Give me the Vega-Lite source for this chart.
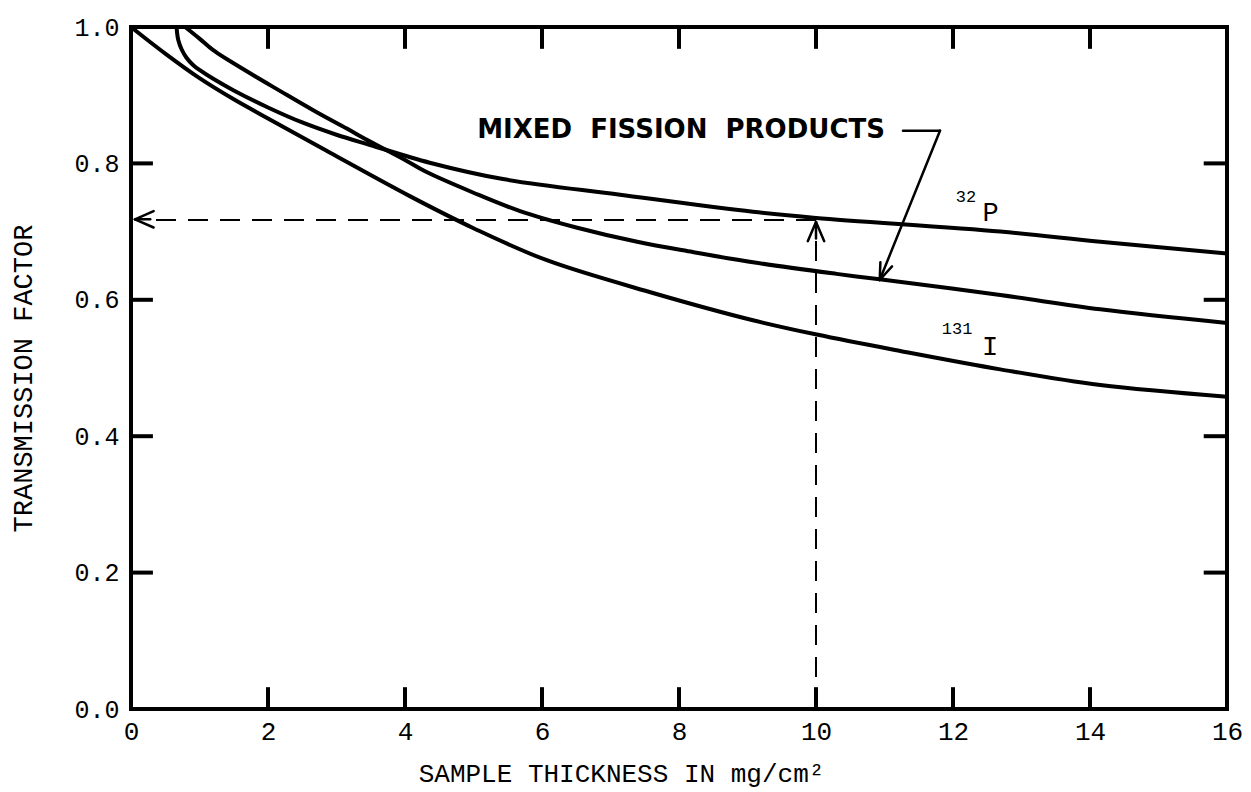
{
  "$schema": "https://vega.github.io/schema/vega-lite/v6.json",
  "width": 1096,
  "height": 682,
  "autosize": {"type": "none"},
  "padding": {"left": 131, "top": 27, "right": 24, "bottom": 83},
  "background": "white",
  "config": {
    "view": {"stroke": "black", "strokeWidth": 4},
    "axis": {"grid": false, "domain": false, "ticks": false, "tickSize": 0, "labelColor": "black", "titleColor": "black", "labelOverlap": false, "labelFlush": false}
  },
  "datasets": {
    "curves": [
      {"s": "I131", "x": 0, "y": 1.0},
      {"s": "I131", "x": 0.5, "y": 0.961},
      {"s": "I131", "x": 1.0, "y": 0.925},
      {"s": "I131", "x": 1.5, "y": 0.894},
      {"s": "I131", "x": 2.0, "y": 0.866},
      {"s": "I131", "x": 2.9, "y": 0.816},
      {"s": "I131", "x": 4.07, "y": 0.752},
      {"s": "I131", "x": 5.0, "y": 0.705},
      {"s": "I131", "x": 6.07, "y": 0.658},
      {"s": "I131", "x": 7.62, "y": 0.610},
      {"s": "I131", "x": 9.08, "y": 0.570},
      {"s": "I131", "x": 10.01, "y": 0.549},
      {"s": "I131", "x": 11.23, "y": 0.525},
      {"s": "I131", "x": 12.69, "y": 0.498},
      {"s": "I131", "x": 14.15, "y": 0.475},
      {"s": "I131", "x": 16, "y": 0.458},
      {"s": "P32", "x": 0.667, "y": 1.0},
      {"s": "P32", "x": 0.672, "y": 0.992},
      {"s": "P32", "x": 0.69, "y": 0.981},
      {"s": "P32", "x": 0.74, "y": 0.967},
      {"s": "P32", "x": 0.81, "y": 0.955},
      {"s": "P32", "x": 0.91, "y": 0.944},
      {"s": "P32", "x": 1.0, "y": 0.937},
      {"s": "P32", "x": 1.2, "y": 0.924},
      {"s": "P32", "x": 1.5, "y": 0.907},
      {"s": "P32", "x": 2.0, "y": 0.882},
      {"s": "P32", "x": 2.5, "y": 0.860},
      {"s": "P32", "x": 3.0, "y": 0.842},
      {"s": "P32", "x": 3.49, "y": 0.827},
      {"s": "P32", "x": 4.36, "y": 0.801},
      {"s": "P32", "x": 5.43, "y": 0.777},
      {"s": "P32", "x": 7.14, "y": 0.754},
      {"s": "P32", "x": 9.08, "y": 0.729},
      {"s": "P32", "x": 10.0, "y": 0.720},
      {"s": "P32", "x": 12.69, "y": 0.700},
      {"s": "P32", "x": 14.15, "y": 0.685},
      {"s": "P32", "x": 16, "y": 0.668},
      {"s": "MFP", "x": 0.79, "y": 1.0},
      {"s": "MFP", "x": 1.0, "y": 0.983},
      {"s": "MFP", "x": 1.2, "y": 0.966},
      {"s": "MFP", "x": 1.69, "y": 0.935},
      {"s": "MFP", "x": 2.18, "y": 0.906},
      {"s": "MFP", "x": 2.66, "y": 0.878},
      {"s": "MFP", "x": 3.15, "y": 0.851},
      {"s": "MFP", "x": 3.49, "y": 0.832},
      {"s": "MFP", "x": 4.0, "y": 0.805},
      {"s": "MFP", "x": 4.3, "y": 0.788},
      {"s": "MFP", "x": 5.0, "y": 0.757},
      {"s": "MFP", "x": 5.68, "y": 0.730},
      {"s": "MFP", "x": 6.5, "y": 0.706},
      {"s": "MFP", "x": 7.39, "y": 0.685},
      {"s": "MFP", "x": 8.2, "y": 0.670},
      {"s": "MFP", "x": 9.08, "y": 0.655},
      {"s": "MFP", "x": 10.3, "y": 0.638},
      {"s": "MFP", "x": 10.93, "y": 0.630},
      {"s": "MFP", "x": 12.69, "y": 0.607},
      {"s": "MFP", "x": 14.15, "y": 0.586},
      {"s": "MFP", "x": 16, "y": 0.566}
    ],
    "ticks": [
      {"x": 2, "y": 0, "x2": 2, "y2": 0.032},
      {"x": 4, "y": 0, "x2": 4, "y2": 0.032},
      {"x": 6, "y": 0, "x2": 6, "y2": 0.032},
      {"x": 8, "y": 0, "x2": 8, "y2": 0.032},
      {"x": 10, "y": 0, "x2": 10, "y2": 0.032},
      {"x": 12, "y": 0, "x2": 12, "y2": 0.032},
      {"x": 14, "y": 0, "x2": 14, "y2": 0.032},
      {"x": 2, "y": 1, "x2": 2, "y2": 0.968},
      {"x": 4, "y": 1, "x2": 4, "y2": 0.968},
      {"x": 6, "y": 1, "x2": 6, "y2": 0.968},
      {"x": 8, "y": 1, "x2": 8, "y2": 0.968},
      {"x": 10, "y": 1, "x2": 10, "y2": 0.968},
      {"x": 12, "y": 1, "x2": 12, "y2": 0.968},
      {"x": 14, "y": 1, "x2": 14, "y2": 0.968},
      {"x": 0, "y": 0.2, "x2": 0.32, "y2": 0.2},
      {"x": 0, "y": 0.4, "x2": 0.32, "y2": 0.4},
      {"x": 0, "y": 0.6, "x2": 0.32, "y2": 0.6},
      {"x": 0, "y": 0.8, "x2": 0.32, "y2": 0.8},
      {"x": 16, "y": 0.2, "x2": 15.66, "y2": 0.2},
      {"x": 16, "y": 0.4, "x2": 15.66, "y2": 0.4},
      {"x": 16, "y": 0.6, "x2": 15.66, "y2": 0.6},
      {"x": 16, "y": 0.8, "x2": 15.66, "y2": 0.8}
    ],
    "solid": [
      {"x": 11.27, "y": 0.848, "x2": 11.81, "y2": 0.848},
      {"x": 11.81, "y": 0.848, "x2": 10.93, "y2": 0.629},
      {"x": 10.93, "y": 0.629, "x2": 11.11, "y2": 0.649},
      {"x": 10.93, "y": 0.629, "x2": 10.94, "y2": 0.655},
      {"x": 10.0, "y": 0.714, "x2": 9.88, "y2": 0.686},
      {"x": 10.0, "y": 0.714, "x2": 10.12, "y2": 0.686},
      {"x": 10.0, "y": 0.714, "x2": 10.0, "y2": 0.690},
      {"x": 0.058, "y": 0.718, "x2": 0.33, "y2": 0.730},
      {"x": 0.058, "y": 0.718, "x2": 0.33, "y2": 0.706},
      {"x": 0.058, "y": 0.718, "x2": 0.28, "y2": 0.718}
    ],
    "dashed": [
      {"x": 10.0, "y": 0.0, "x2": 10.0, "y2": 0.70},
      {"x": 10.0, "y": 0.717, "x2": 0.3, "y2": 0.717}
    ],
    "mfp": [{"x": 8.03, "y": 0.849, "t": "MIXED\u00a0\u00a0FISSION\u00a0\u00a0PRODUCTS"}],
    "sup": [
      {"x": 12.19, "y": 0.751, "t": "32"},
      {"x": 12.06, "y": 0.557, "t": "131"}
    ],
    "big": [
      {"x": 12.55, "y": 0.727, "t": "P"},
      {"x": 12.54, "y": 0.531, "t": "I"}
    ]
  },
  "encoding": {
    "x": {
      "field": "x", "type": "quantitative",
      "scale": {"domain": [0, 16], "nice": false, "zero": false},
      "axis": {
        "values": [0, 2, 4, 6, 8, 10, 12, 14, 16],
        "format": "d",
        "labelFont": "Liberation Mono", "labelFontSize": 26, "labelPadding": 9,
        "title": "SAMPLE THICKNESS IN mg/cm²",
        "titleFont": "Liberation Mono", "titleFontSize": 26, "titleFontWeight": "normal",
        "titlePadding": 16, "titleX": 490
      }
    },
    "y": {
      "field": "y", "type": "quantitative",
      "scale": {"domain": [0, 1], "nice": false, "zero": false},
      "axis": {
        "values": [0, 0.2, 0.4, 0.6, 0.8, 1.0],
        "format": ".1f",
        "labelFont": "Liberation Mono", "labelFontSize": 25, "labelPadding": 12,
        "title": "TRANSMISSION FACTOR",
        "titleFont": "Liberation Mono", "titleFontSize": 27, "titleFontWeight": "normal",
        "titlePadding": 36, "titleY": 351
      }
    }
  },
  "layer": [
    {
      "data": {"name": "curves"},
      "mark": {"type": "line", "interpolate": "catmull-rom", "color": "black", "strokeWidth": 4},
      "encoding": {"detail": {"field": "s"}}
    },
    {
      "data": {"name": "ticks"},
      "mark": {"type": "rule", "color": "black", "strokeWidth": 4},
      "encoding": {"x2": {"field": "x2"}, "y2": {"field": "y2"}}
    },
    {
      "data": {"name": "solid"},
      "mark": {"type": "rule", "color": "black", "strokeWidth": 2.5, "strokeCap": "round"},
      "encoding": {"x2": {"field": "x2"}, "y2": {"field": "y2"}}
    },
    {
      "data": {"name": "dashed"},
      "mark": {"type": "rule", "color": "black", "strokeWidth": 2, "strokeDash": [20, 12]},
      "encoding": {"x2": {"field": "x2"}, "y2": {"field": "y2"}}
    },
    {
      "data": {"name": "mfp"},
      "mark": {"type": "text", "font": "DejaVu Sans", "fontWeight": "bold", "fontSize": 26, "align": "center", "baseline": "middle", "color": "black"},
      "encoding": {"text": {"field": "t"}}
    },
    {
      "data": {"name": "sup"},
      "mark": {"type": "text", "font": "Liberation Mono", "fontSize": 17, "align": "center", "baseline": "middle", "color": "black"},
      "encoding": {"text": {"field": "t"}}
    },
    {
      "data": {"name": "big"},
      "mark": {"type": "text", "font": "Liberation Mono", "fontSize": 27, "align": "center", "baseline": "middle", "color": "black"},
      "encoding": {"text": {"field": "t"}}
    }
  ]
}
